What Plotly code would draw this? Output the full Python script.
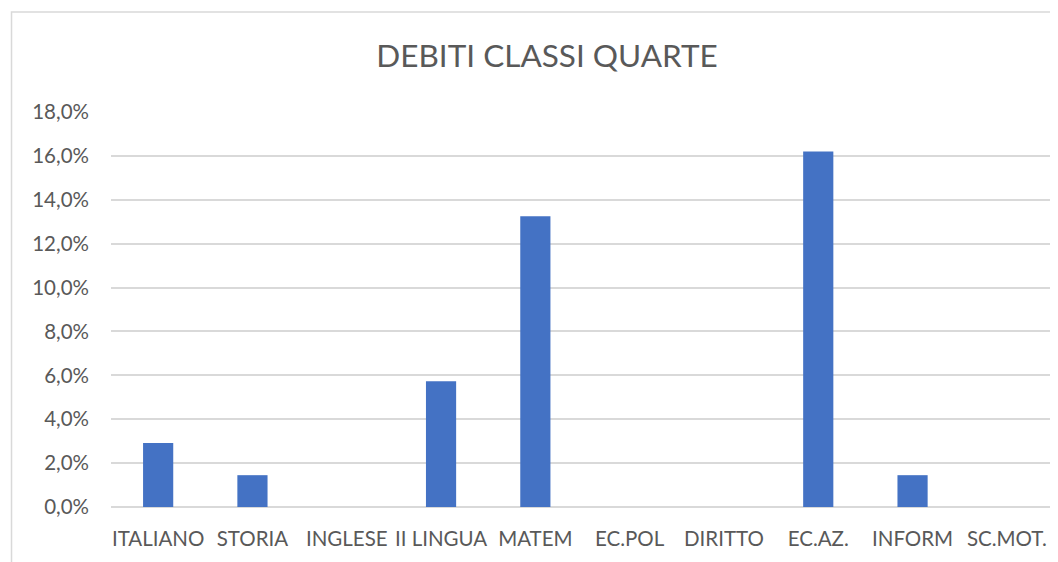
import plotly.graph_objects as go

# Materie e percentuale di debiti (classi quarte)
materie = ['ITALIANO', 'STORIA', 'INGLESE', 'II LINGUA', 'MATEM',
           'EC.POL', 'DIRITTO', 'EC.AZ.', 'INFORM', 'SC.MOT.']
debiti = [0.0292, 0.0145, 0.0, 0.0573, 0.1325,
          0.0, 0.0, 0.1620, 0.0145, 0.0]

y_ticks = [0, 0.02, 0.04, 0.06, 0.08, 0.10, 0.12, 0.14, 0.16, 0.18]

text_color = '#595959'
grid_color = '#d9d9d9'
font_family = 'Lato, "Open Sans", sans-serif'

fig = go.Figure()
fig.add_trace(go.Bar(
    x=materie, y=debiti,
    marker=dict(color='#4472C4', line=dict(width=0)),
    hoverinfo='x+y',
))

# bordo del grafico (come in Excel)
fig.add_shape(
    type='rect', xref='paper', yref='paper',
    x0=-0.1055, x1=1.2, y0=-0.3, y1=1.253,
    line=dict(color=grid_color, width=1.5), fillcolor='rgba(0,0,0,0)',
    layer='below',
)

fig.update_layout(
    width=1058, height=562,
    margin=dict(l=103, r=12, t=104, b=63),
    paper_bgcolor='white', plot_bgcolor='white',
    separators=',.',
    bargap=0.68,
    showlegend=False,
    title=dict(
        text='DEBITI CLASSI QUARTE',
        x=0.5095, xref='container', xanchor='center',
        y=0.915, yanchor='middle',
        font=dict(family=font_family, size=31.5, color=text_color),
    ),
    font=dict(family=font_family, size=20, color=text_color),
    xaxis=dict(
        showgrid=False, showline=False, zeroline=False,
        ticks='', ticklabelstandoff=17,
        tickfont=dict(size=20.5, color=text_color),
    ),
    yaxis=dict(
        range=[0, 0.18], tickvals=y_ticks, tickformat='.1%',
        showgrid=True, gridcolor=grid_color, gridwidth=1.5,
        zeroline=True, zerolinecolor=grid_color, zerolinewidth=1.5,
        showline=False, ticks='', ticklabelstandoff=21,
        tickfont=dict(size=20.5, color=text_color),
    ),
)

fig.write_html('out.html')
